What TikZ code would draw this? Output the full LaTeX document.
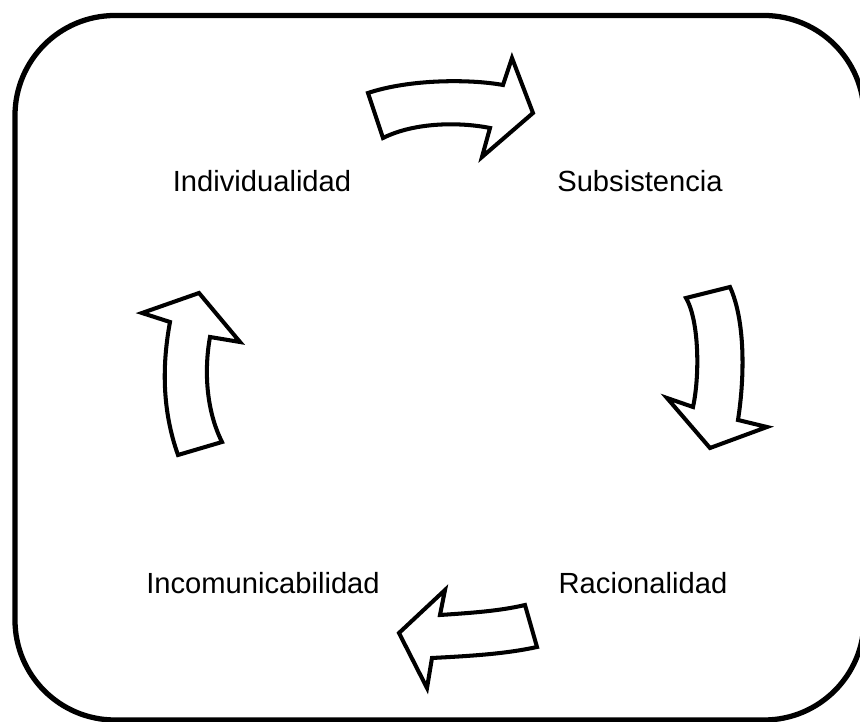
\documentclass[tikz,border=0pt]{standalone}
\usepackage{fontspec}
\setmainfont{Liberation Sans}
\usepackage{tikz}

\begin{document}
\begin{tikzpicture}[x=0.02cm, y=-0.02cm, every node/.style={font=\fontsize{16.6}{20}\selectfont, inner sep=0pt}, blockarrow/.style={draw, line width=2.3pt, line join=miter, fill=white}]
    \useasboundingbox (0,0) rectangle (860,722);
    % Outer frame with round corners (right and bottom sides run off the page)
    \begin{scope}
    \clip (0,0) rectangle (860,722);
    \draw[line width=3pt, rounded corners=2cm] (15,15.5) rectangle (864,720);
    \end{scope}

    % The four stages of the cycle
    \node (I) at (262,181) {Individualidad};
    \node (S) at (640,181) {Subsistencia};
    \node (R) at (643,583) {Racionalidad};
    \node (C) at (263,583) {Incomunicabilidad};

    % Block arrows, clockwise
    \draw[blockarrow] (368,93) .. controls (410,79) and (470,79) .. (503,85) -- (512,58) -- (533,113) -- (482,157) -- (490,128) .. controls (460,122) and (415,122) .. (383,138) -- cycle; % I -> S
    \draw[blockarrow] (686,298) -- (730,287) .. controls (745,320) and (745,375) .. (738,420) -- (767,427) -- (710,448) -- (667,398) -- (693,407) .. controls (700,375) and (699,320) .. (686,298) -- cycle; % S -> R
    \draw[blockarrow] (525,605) -- (537,647) .. controls (505,654) and (470,656) .. (432,658) -- (427,688) -- (399,633) -- (445,590) -- (440,615) .. controls (470,613) and (500,611) .. (525,605) -- cycle; % R -> C
    \draw[blockarrow] (178,455) .. controls (162,410) and (162,365) .. (170,322) -- (142,313) -- (199,293) -- (240,342) -- (210,337) .. controls (204,370) and (206,410) .. (222,442) -- cycle; % C -> I
\end{tikzpicture}
\end{document}
